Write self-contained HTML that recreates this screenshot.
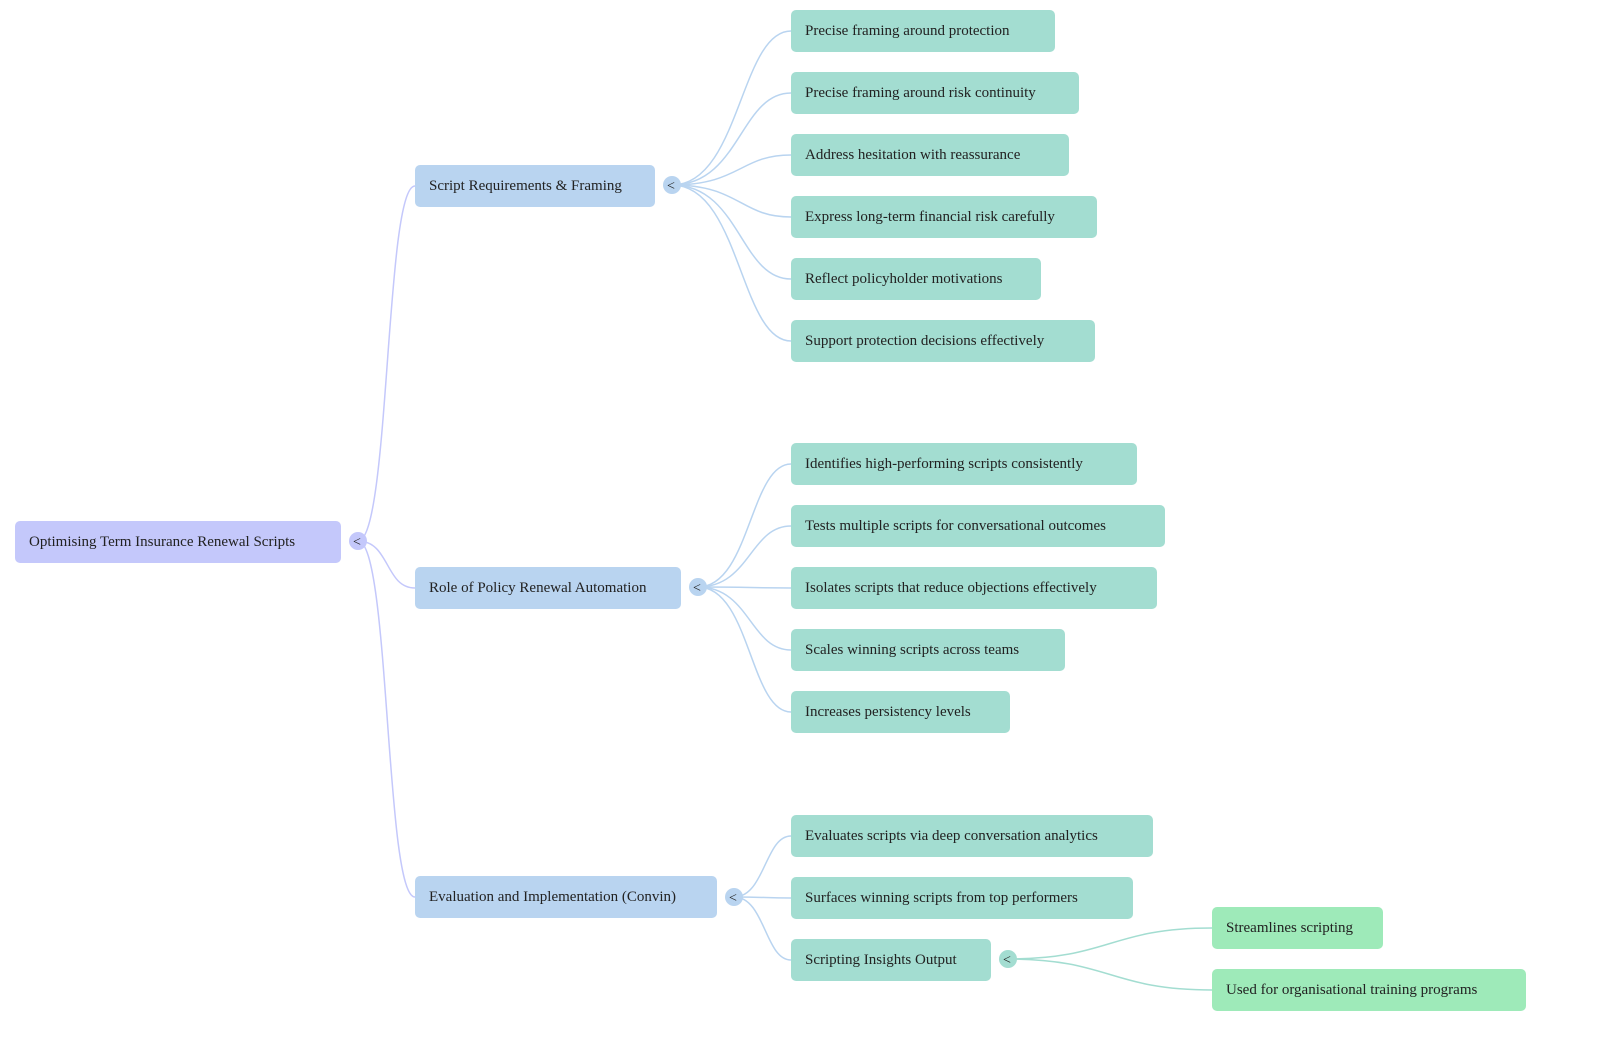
<!DOCTYPE html>
<html><head><meta charset="utf-8"><style>
html,body{margin:0;padding:0;background:#fff;overflow:hidden;width:1600px;height:1043px;}
svg{display:block;}
svg text{font-family:"Liberation Serif",serif;font-size:15px;fill:#222;}
</style></head><body>
<svg width="1600" height="1043" xmlns="http://www.w3.org/2000/svg">
<g fill="none" stroke-width="1.5">
<g stroke="#c4c8fb">
<path d="M358 541 C390 541,385 186,415 186"/>
<path d="M358 541 C390 541,385 588,415 588"/>
<path d="M358 541 C390 541,385 897,415 897"/>
</g>
<g stroke="#b9d4f0">
<path d="M672 185 C740 185,740 31,791 31"/>
<path d="M672 185 C740 185,740 93,791 93"/>
<path d="M672 185 C740 185,740 155,791 155"/>
<path d="M672 185 C740 185,740 217,791 217"/>
<path d="M672 185 C740 185,740 279,791 279"/>
<path d="M672 185 C740 185,740 341,791 341"/>
<path d="M698 587 C750 587,750 464,791 464"/>
<path d="M698 587 C750 587,750 526,791 526"/>
<path d="M698 587 C750 587,750 588,791 588"/>
<path d="M698 587 C750 587,750 650,791 650"/>
<path d="M698 587 C750 587,750 712,791 712"/>
<path d="M734 897 C765 897,765 836,791 836"/>
<path d="M734 897 C765 897,765 898,791 898"/>
<path d="M734 897 C765 897,765 960,791 960"/>
</g>
<g stroke="#a3ddd1">
<path d="M1008 959 C1110 959,1110 928,1212 928"/>
<path d="M1008 959 C1110 959,1110 990,1212 990"/>
</g>
</g>
<rect x="15" y="521" width="326" height="42" rx="5" fill="#c4c8fb"/>
<text x="29" y="546">Optimising Term Insurance Renewal Scripts</text>
<circle cx="358" cy="541" r="9" fill="#c4c8fb"/><text x="353" y="546" style="font-size:14px">&lt;</text>

<g fill="#b9d4f0">
<rect x="415" y="165" width="240" height="42" rx="5"/>
<rect x="415" y="567" width="266" height="42" rx="5"/>
<rect x="415" y="876" width="302" height="42" rx="5"/>
<circle cx="672" cy="185" r="9"/><circle cx="698" cy="587" r="9"/><circle cx="734" cy="897" r="9"/>
</g>
<text x="429" y="190">Script Requirements &amp; Framing</text>
<text x="429" y="592">Role of Policy Renewal Automation</text>
<text x="429" y="901">Evaluation and Implementation (Convin)</text>
<text x="667" y="190" style="font-size:14px">&lt;</text>
<text x="693" y="592" style="font-size:14px">&lt;</text>
<text x="729" y="902" style="font-size:14px">&lt;</text>

<g fill="#a3ddd1">
<rect x="791" y="10" width="264" height="42" rx="5"/>
<rect x="791" y="72" width="288" height="42" rx="5"/>
<rect x="791" y="134" width="278" height="42" rx="5"/>
<rect x="791" y="196" width="306" height="42" rx="5"/>
<rect x="791" y="258" width="250" height="42" rx="5"/>
<rect x="791" y="320" width="304" height="42" rx="5"/>
<rect x="791" y="443" width="346" height="42" rx="5"/>
<rect x="791" y="505" width="374" height="42" rx="5"/>
<rect x="791" y="567" width="366" height="42" rx="5"/>
<rect x="791" y="629" width="274" height="42" rx="5"/>
<rect x="791" y="691" width="219" height="42" rx="5"/>
<rect x="791" y="815" width="362" height="42" rx="5"/>
<rect x="791" y="877" width="342" height="42" rx="5"/>
<rect x="791" y="939" width="200" height="42" rx="5"/>
<circle cx="1008" cy="959" r="9"/>
</g>
<text x="805" y="35">Precise framing around protection</text>
<text x="805" y="97">Precise framing around risk continuity</text>
<text x="805" y="159">Address hesitation with reassurance</text>
<text x="805" y="221">Express long-term financial risk carefully</text>
<text x="805" y="283">Reflect policyholder motivations</text>
<text x="805" y="345">Support protection decisions effectively</text>
<text x="805" y="468">Identifies high-performing scripts consistently</text>
<text x="805" y="530">Tests multiple scripts for conversational outcomes</text>
<text x="805" y="592">Isolates scripts that reduce objections effectively</text>
<text x="805" y="654">Scales winning scripts across teams</text>
<text x="805" y="716">Increases persistency levels</text>
<text x="805" y="840">Evaluates scripts via deep conversation analytics</text>
<text x="805" y="902">Surfaces winning scripts from top performers</text>
<text x="805" y="964">Scripting Insights Output</text>
<text x="1003" y="964" style="font-size:14px">&lt;</text>

<g fill="#9eeab9">
<rect x="1212" y="907" width="171" height="42" rx="5"/>
<rect x="1212" y="969" width="314" height="42" rx="5"/>
</g>
<text x="1226" y="932">Streamlines scripting</text>
<text x="1226" y="994">Used for organisational training programs</text>
</svg>
</body></html>
